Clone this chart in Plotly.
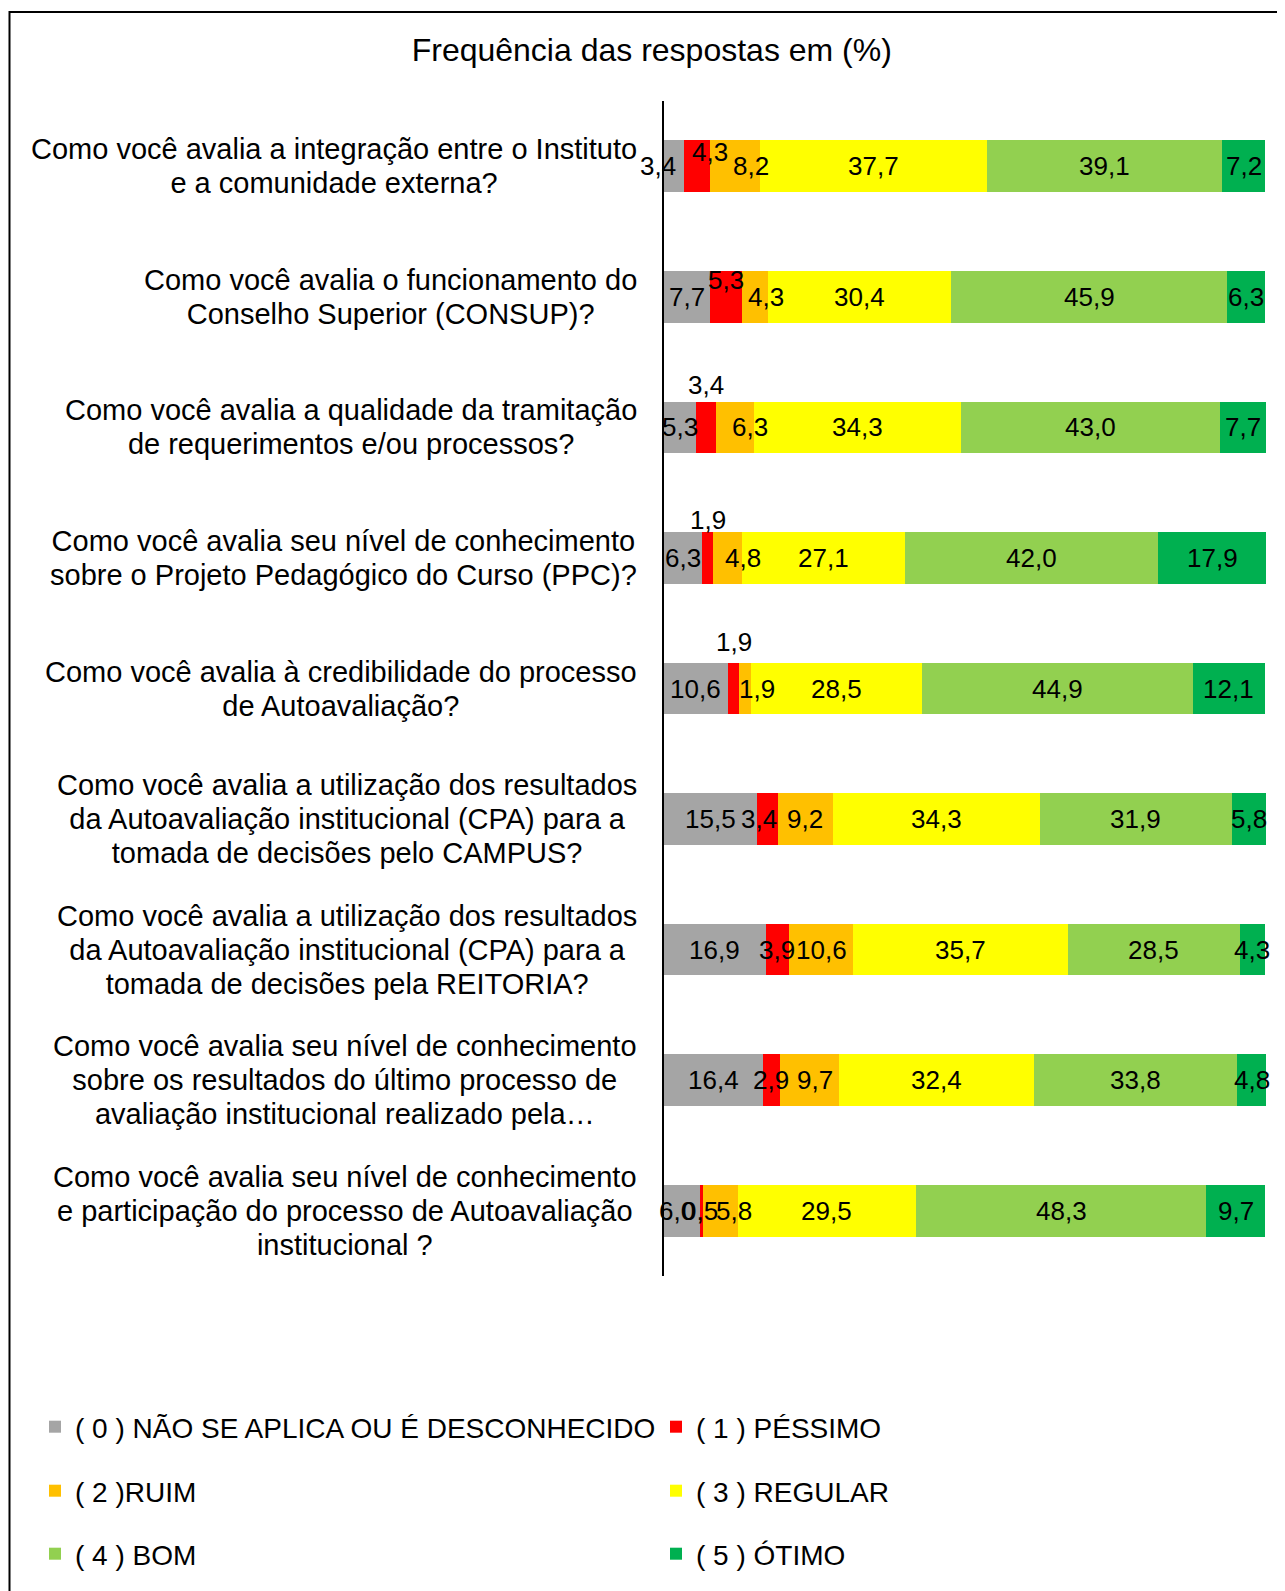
import plotly.graph_objects as go

# perguntas (de cima para baixo), uma lista de linhas por pergunta
question_lines = [
    ["Como você avalia a integração entre o Instituto", "e a comunidade externa?"],
    ["Como você avalia o funcionamento do", "Conselho Superior (CONSUP)?"],
    ["Como você avalia a qualidade da tramitação", "de requerimentos e/ou processos?"],
    ["Como você avalia seu nível de conhecimento", "sobre o Projeto Pedagógico do Curso (PPC)?"],
    ["Como você avalia à credibilidade do processo", "de Autoavaliação?"],
    ["Como você avalia a utilização dos resultados", "da Autoavaliação institucional (CPA) para a",
     "tomada de decisões pelo CAMPUS?"],
    ["Como você avalia a utilização dos resultados", "da Autoavaliação institucional (CPA) para a",
     "tomada de decisões pela REITORIA?"],
    ["Como você avalia seu nível de conhecimento", "sobre os resultados do último processo de",
     "avaliação institucional realizado pela…"],
    ["Como você avalia seu nível de conhecimento", "e participação do processo de Autoavaliação",
     "institucional ?"],
]
questions = ["<br>".join(lines) for lines in question_lines]

series_names = [
    "( 0 ) NÃO SE APLICA OU É DESCONHECIDO",
    "( 1 ) PÉSSIMO",
    "( 2 )RUIM",
    "( 3 ) REGULAR",
    "( 4 ) BOM",
    "( 5 ) ÓTIMO",
]

nao_se_aplica = [3.4, 7.7, 5.3, 6.3, 10.6, 15.5, 16.9, 16.4, 6.0]
pessimo = [4.3, 5.3, 3.4, 1.9, 1.9, 3.4, 3.9, 2.9, 0.5]
ruim = [8.2, 4.3, 6.3, 4.8, 1.9, 9.2, 10.6, 9.7, 5.8]
regular = [37.7, 30.4, 34.3, 27.1, 28.5, 34.3, 35.7, 32.4, 29.5]
bom = [39.1, 45.9, 43.0, 42.0, 44.9, 31.9, 28.5, 33.8, 48.3]
otimo = [7.2, 6.3, 7.7, 17.9, 12.1, 5.8, 4.3, 4.8, 9.7]

series_values = [nao_se_aplica, pessimo, ruim, regular, bom, otimo]
colors = ["#A5A5A5", "#FF0000", "#FFC000", "#FFFF00", "#92D050", "#00B050"]
legend_ids = ["legend", "legend", "legend2", "legend2", "legend3", "legend3"]

# deslocamentos manuais (px) dos rótulos que foram movidos no original
label_shift = {
    (0, 0): (-16, 0), (0, 1): (13, 14), (0, 2): (16, 0),
    (1, 1): (0, 17), (1, 2): (11, 0),
    (2, 1): (0, 42), (2, 2): (15, 0),
    (3, 1): (0, 38), (3, 2): (15, 0),
    (4, 1): (0, 47), (4, 2): (12, 0),
    (5, 1): (-9, 0),
    (7, 2): (6, 0),
    (8, 0): (-5, 0), (8, 1): (-2, 0), (8, 2): (13, 0),
}

FONT = "Liberation Sans, Arial, sans-serif"

fig = go.Figure()
for name, vals, color, lg in zip(series_names, series_values, colors, legend_ids):
    fig.add_trace(go.Bar(
        x=vals, y=questions, name=name, orientation="h",
        marker=dict(color=color, line=dict(width=0)),
        legend=lg, hoverinfo="skip",
    ))

# rótulos de dados centralizados em cada segmento
annotations = []
for i, q in enumerate(questions):
    start = 0
    for s, vals in enumerate(series_values):
        v = vals[i]
        dx, dy = label_shift.get((i, s), (0, 0))
        annotations.append(dict(
            x=start + v / 2, y=q, xref="x", yref="y",
            text=f"{v:.1f}".replace(".", ","), showarrow=False,
            xshift=dx, yshift=dy,
            font=dict(family=FONT, size=26, color="black"),
        ))
        start += v

# rótulos das categorias (linhas centralizadas, bloco alinhado ao eixo)
# fonte base 26 => espaçamento de linha mais próximo do original, texto a 29px
for q, lines in zip(questions, question_lines):
    txt = "<br>".join(f"<span style='font-size:29px'>{ln}</span>" for ln in lines)
    annotations.append(dict(
        x=0, y=q, xref="x", yref="y", xanchor="right", yanchor="middle",
        xshift=-25, text=txt, align="center", showarrow=False,
        font=dict(family=FONT, size=26, color="black"),
    ))

legend_style = dict(
    orientation="h", xref="paper", yref="paper", x=(27 - 656) / 602,
    xanchor="left", yanchor="middle", entrywidth=576, entrywidthmode="pixels",
    itemwidth=30, font=dict(family=FONT, size=28, color="black"),
    bgcolor="rgba(0,0,0,0)", traceorder="normal",
)

fig.update_layout(
    width=1285, height=1591,
    barmode="stack", bargap=0.605,
    plot_bgcolor="white", paper_bgcolor="white",
    margin=dict(l=656, r=27, t=93, b=323, autoexpand=False),
    title=dict(text="Frequência das respostas em (%)", x=0.501, xref="container",
               y=1 - 42 / 1591, yref="container", xanchor="center", yanchor="middle",
               font=dict(family=FONT, size=32, color="black")),
    xaxis=dict(range=[0, 100], visible=False, fixedrange=True),
    yaxis=dict(autorange="reversed", showticklabels=False, ticks="",
               showgrid=False, zeroline=False, showline=True,
               linecolor="black", linewidth=2),
    legend=dict(legend_style, y=(1268 - 1419) / 1175),
    legend2=dict(legend_style, y=(1268 - 1483) / 1175),
    legend3=dict(legend_style, y=(1268 - 1546) / 1175),
    annotations=annotations,
    shapes=[dict(type="rect", xref="paper", yref="paper",
                 x0=(1.5 - 656) / 602, x1=1.2, y0=-0.4, y1=(1268 - 4) / 1175,
                 line=dict(color="black", width=2), layer="below")],
    showlegend=True,
)

fig.write_html("out.html")
